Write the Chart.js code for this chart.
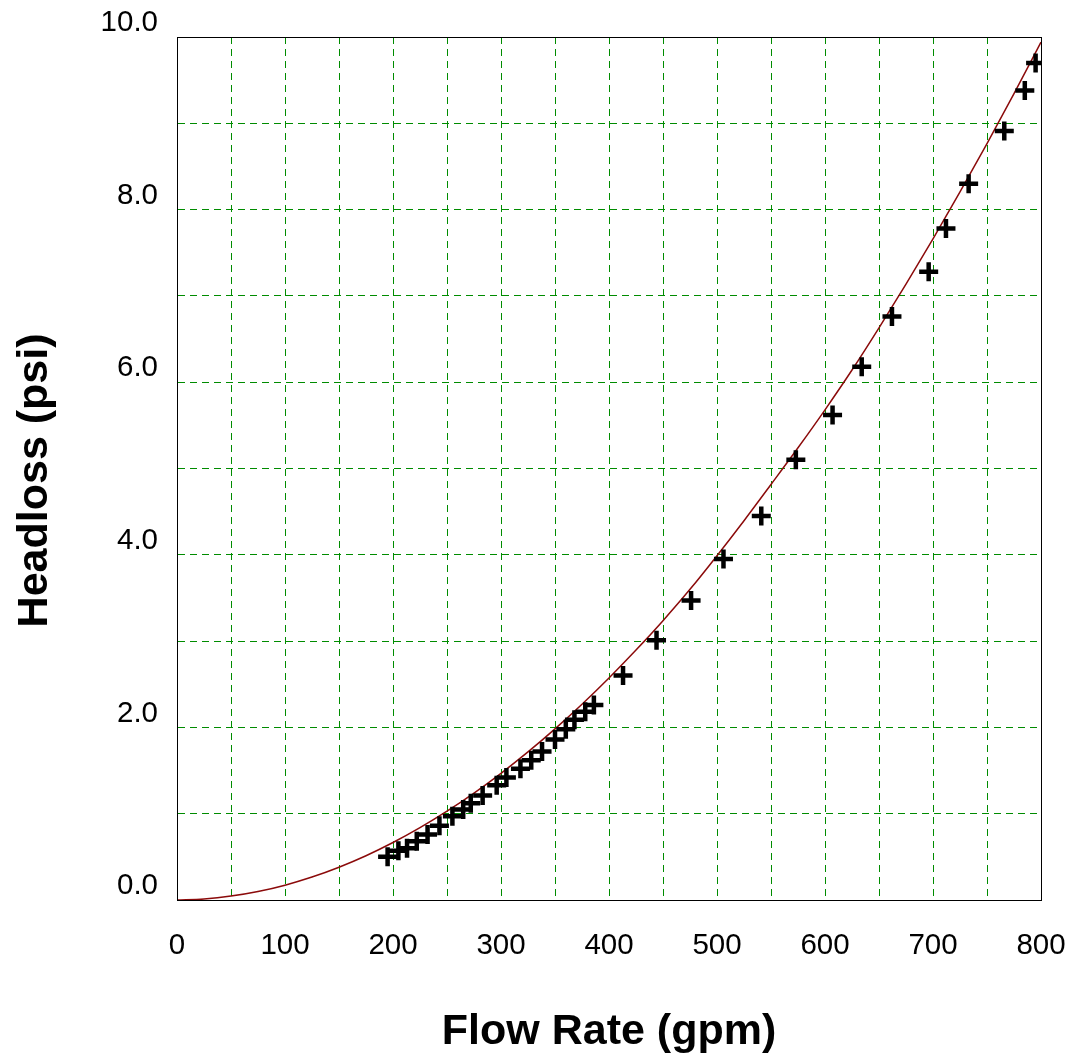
<!DOCTYPE html>
<html>
<head>
<meta charset="utf-8">
<script src="https://cdn.jsdelivr.net/npm/chart.js@4/dist/chart.umd.min.js"></script>
<style>
  html, body { margin: 0; padding: 0; background: #fff; }
  canvas { display: block; }
</style>
</head>
<body>
<canvas id="c" width="1077" height="1054"></canvas>
<script>
// Measured points (flow in gpm, headloss in psi)
const measuredFlow = [195, 205, 213, 222, 232, 243, 255, 265, 272, 283, 296, 305, 318, 328, 338, 350, 360, 368, 378, 386,
                      413, 444, 476, 506, 541, 573, 607, 634, 662, 696, 712, 733, 766, 785, 795];
const measuredHead = [0.50, 0.57, 0.60, 0.68, 0.76, 0.86, 0.97, 1.05, 1.12, 1.21, 1.33, 1.42, 1.52, 1.62, 1.72, 1.86, 1.98, 2.09, 2.18, 2.26,
                      2.60, 3.01, 3.47, 3.95, 4.45, 5.10, 5.62, 6.18, 6.76, 7.28, 7.78, 8.30, 8.91, 9.38, 9.70];

// Fitted curve
const curveFlow = [0, 25, 50, 75, 100, 125, 150, 175, 200, 225, 250, 275, 300, 325, 350, 375, 400,
                   425, 450, 475, 500, 525, 550, 575, 600, 625, 650, 675, 700, 725, 750, 775, 800];
const curveHead = [0, 0.012, 0.045, 0.098, 0.172, 0.266, 0.380, 0.513, 0.666, 0.838, 1.029, 1.239, 1.468, 1.716, 1.983, 2.269, 2.573,
                   2.896, 3.237, 3.600, 3.990, 4.395, 4.815, 5.240, 5.680, 6.141, 6.630, 7.137, 7.661, 8.204, 8.764, 9.343, 9.940];

// Axis tick settings
const xMin = 0, xMax = 800, xGridStep = 50, xLabelStep = 100;
const yMin = 0, yMax = 10, yGridStep = 1, yLabelStep = 2;

const FONT = "'Liberation Sans', Arial, Helvetica, sans-serif";
const GRID = 'rgb(0,140,0)';

const framePlugin = {
  id: 'frame',
  afterDraw(chart) {
    const a = chart.chartArea;
    const ctx = chart.ctx;
    ctx.save();
    ctx.strokeStyle = '#000';
    ctx.lineWidth = 1;
    ctx.setLineDash([]);
    ctx.strokeRect(Math.round(a.left) + 0.5, Math.round(a.top) + 0.5,
                   Math.round(a.right) - Math.round(a.left), Math.round(a.bottom) - Math.round(a.top));
    ctx.restore();
  }
};

new Chart(document.getElementById('c'), {
  type: 'scatter',
  data: {
    datasets: [
      {
        label: 'Measured',
        data: measuredFlow.map((q, i) => ({ x: q, y: measuredHead[i] })),
        showLine: false,
        pointStyle: 'cross',
        pointRadius: 9.5,
        pointBorderWidth: 4.5,
        pointBorderColor: '#000',
        pointBackgroundColor: '#000',
        borderColor: '#000'
      },
      {
        label: 'Fit',
        data: curveFlow.map((q, i) => ({ x: q, y: curveHead[i] })),
        showLine: true,
        pointRadius: 0,
        borderColor: '#8b0a0a',
        borderWidth: 1.5,
        fill: false,
        cubicInterpolationMode: 'monotone'
      }
    ]
  },
  options: {
    responsive: false,
    animation: false,
    layout: { padding: { top: 37, right: 36, left: 0, bottom: 0 }, autoPadding: false },
    plugins: { legend: { display: false }, tooltip: { enabled: false } },
    scales: {
      x: {
        type: 'linear',
        position: 'bottom',
        min: xMin, max: xMax,
        afterFit: s => { s.height = 154; s.paddingLeft = 0; s.paddingRight = 0; },
        ticks: {
          stepSize: xGridStep,
          autoSkip: false,
          maxRotation: 0,
          padding: 28,
          color: '#000',
          font: { family: FONT, size: 29.5 },
          callback: v => (v % xLabelStep === 0 ? String(v) : '')
        },
        grid: { color: GRID, lineWidth: 1, drawTicks: false },
        border: { display: true, color: '#000', width: 1, dash: [7, 5] },
        title: {
          display: true,
          text: 'Flow Rate (gpm)',
          color: '#000',
          font: { family: FONT, size: 43, weight: 'bold', lineHeight: 1 },
          padding: { top: 0, bottom: 0 }
        }
      },
      y: {
        type: 'linear',
        position: 'left',
        min: yMin, max: yMax,
        afterFit: s => { s.width = 177; s.paddingTop = 0; s.paddingBottom = 0; },
        ticks: {
          stepSize: yGridStep,
          autoSkip: false,
          padding: 19,
          labelOffset: -14,
          color: '#000',
          font: { family: FONT, size: 29.5 },
          callback: v => (v % yLabelStep === 0 ? v.toFixed(1) : '')
        },
        grid: { color: GRID, lineWidth: 1, drawTicks: false },
        border: { display: true, color: '#000', width: 1, dash: [7, 5] },
        title: {
          display: true,
          text: 'Headloss (psi)  ',
          color: '#000',
          font: { family: FONT, size: 43, weight: 'bold', lineHeight: 1 },
          padding: { top: 14, bottom: 0 }
        }
      }
    }
  },
  plugins: [framePlugin]
});
</script>
</body>
</html>
